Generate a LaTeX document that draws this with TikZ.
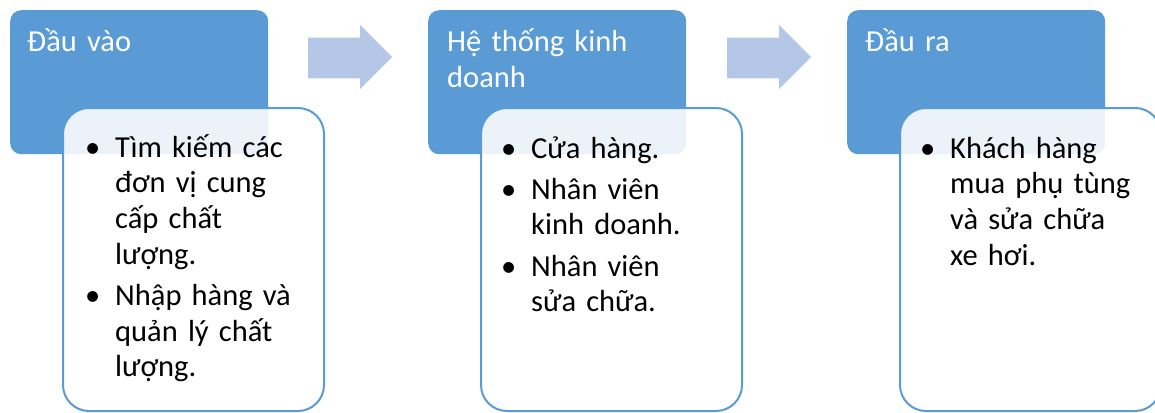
\documentclass[tikz,border=0pt]{standalone}
\usepackage{fontspec}
\setmainfont{Carlito}
\definecolor{boxblue}{HTML}{5B9BD5}
\definecolor{arrowblue}{HTML}{B4C7E7}
\tikzset{
  hdrbox/.style={fill=boxblue, rounded corners=11pt, minimum width=258pt, minimum height=144pt, anchor=north west, inner sep=0pt},
  hdrtext/.style={text=white, anchor=base west, inner sep=0pt, text width=240pt, align=left, font=\fontsize{30.5}{35.5}\selectfont},
  bodybox/.style={draw=boxblue, line width=2pt, fill=white, fill opacity=0.88, rounded corners=26pt, minimum width=261pt, minimum height=303pt, anchor=north west, inner sep=0pt},
  bodytext/.style={anchor=base west, inner sep=0pt, text width=230pt, align=left, text=black, font=\fontsize{30.5}{35.7}\selectfont},
  blockarrow/.style={fill=arrowblue},
}
\newcommand{\bmark}{\llap{\textbullet\hspace{15pt}}}
\newcommand{\bitem}{\par\vspace{5.5pt}\noindent\bmark}
\begin{document}
\begin{tikzpicture}[x=1pt,y=-1pt]
\useasboundingbox (0,0) rectangle (1155,412);
% header boxes
\node[hdrbox] (h1) at (10,10) {};
\node[hdrbox] (h2) at (428,10) {};
\node[hdrbox] (h3) at (847,10) {};
% block arrows
\fill[blockarrow] (308,37.7) -- (360,37.7) -- (360,25) -- (392,57) -- (360,89) -- (360,78.3) -- (308,78.3) -- cycle;
\fill[blockarrow] (727,37.7) -- (779,37.7) -- (779,25) -- (811,57) -- (779,89) -- (779,78.3) -- (727,78.3) -- cycle;
% header texts
\node[hdrtext] (ht1) at (27,52) {Đầu vào};
\node[hdrtext] (ht2) at (447,52) {Hệ thống kinh\\doanh};
\node[hdrtext] (ht3) at (865,52) {Đầu ra};
% body boxes
\node[bodybox] (b1) at (62,107) {};
\node[bodybox] (b2) at (480,107) {};
\node[bodybox] (b3) at (899,107) {};
% body texts
\node[bodytext] (bt1) at (115,157) {\bmark Tìm kiếm các\\đơn vị cung\\cấp chất\\lượng.\bitem Nhập hàng và\\quản lý chất\\lượng.};
\node[bodytext] (bt2) at (531,158) {\bmark Cửa hàng.\bitem Nhân viên\\kinh doanh.\bitem Nhân viên\\sửa chữa.};
\node[bodytext] (bt3) at (950,158) {\bmark Khách hàng\\mua phụ tùng\\và sửa chữa\\xe hơi.};
\end{tikzpicture}
\end{document}
